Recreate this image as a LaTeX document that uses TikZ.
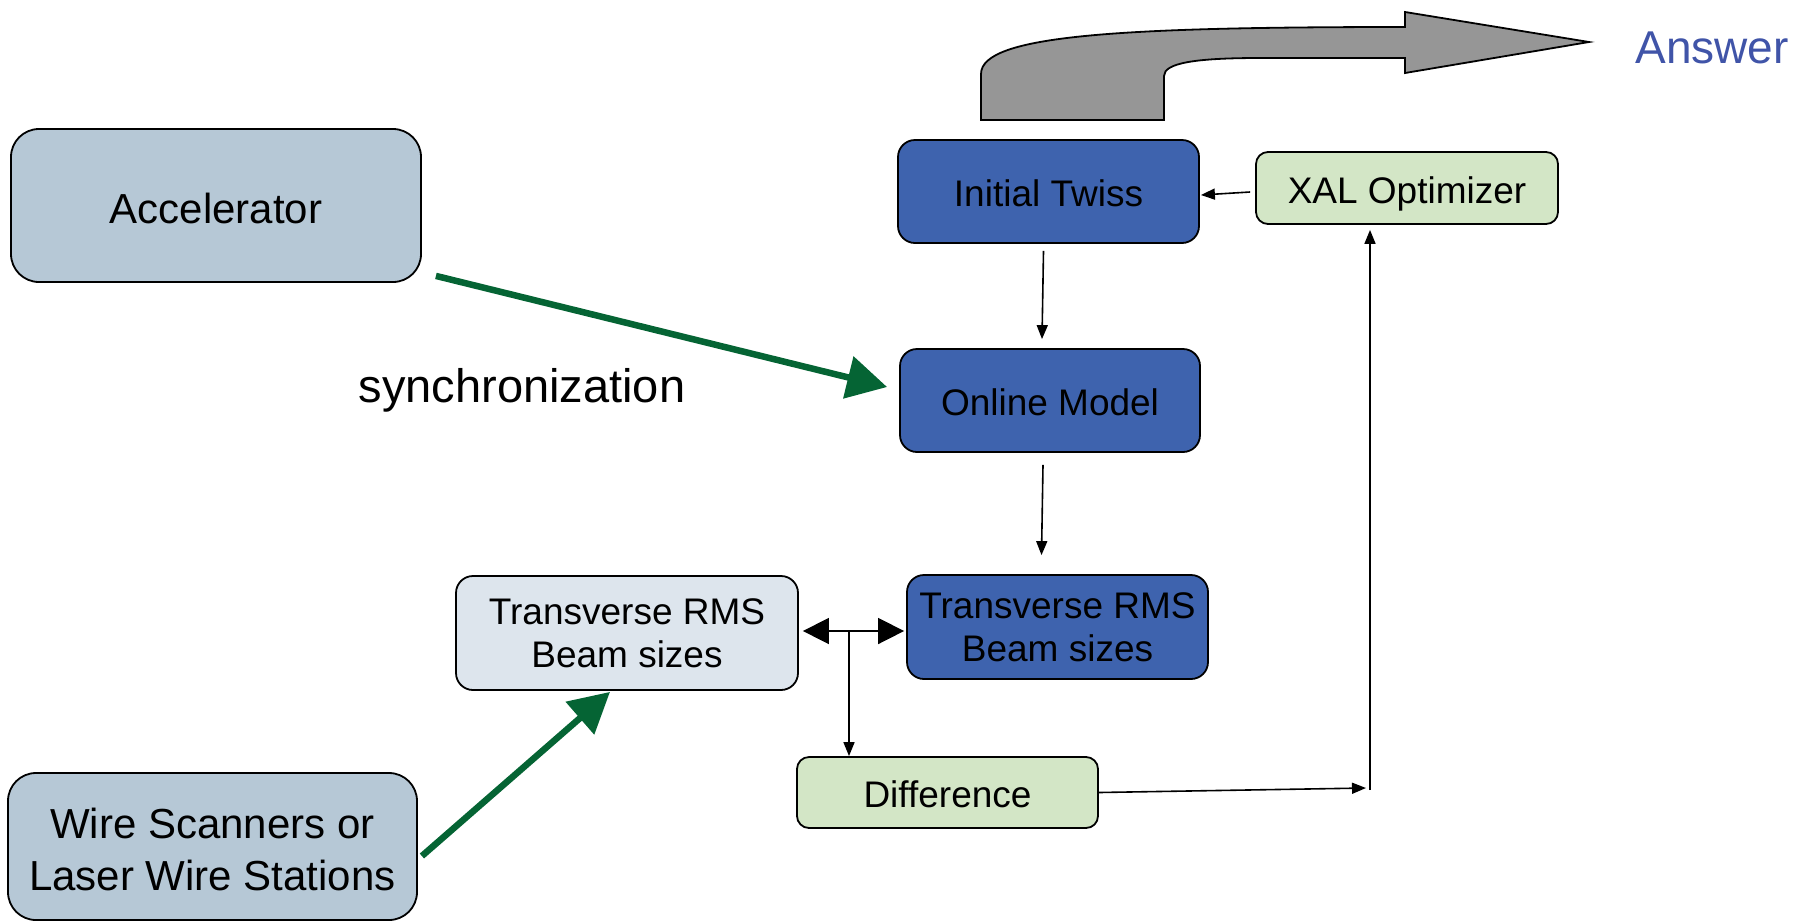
\documentclass[tikz,border=0pt]{standalone}
\usepackage{fontspec}
\setmainfont{Liberation Sans}
\usetikzlibrary{arrows.meta}
\definecolor{boxblue}{RGB}{62,99,174}
\definecolor{steel}{RGB}{182,200,214}
\definecolor{pale}{RGB}{221,229,237}
\definecolor{mint}{RGB}{211,230,198}
\definecolor{garrow}{RGB}{5,100,52}
\definecolor{grayarrow}{RGB}{150,150,150}
\definecolor{anstext}{RGB}{64,84,168}
\begin{document}
\begin{tikzpicture}[x=1pt,y=-1pt,
  box/.style={draw=black, line width=1.8pt, rounded corners=#1, align=center, inner sep=0pt, text=black},
  boxtext/.style={font=\fontsize{37}{43.5}\selectfont},
  oneline/.style={text height=30pt, text depth=0pt},
  bigtext/.style={font=\fontsize{42}{52}\selectfont},
  conn/.style={draw=black, line width=1.6pt, -{Triangle[length=14pt,width=11pt]}},
  dblconn/.style={draw=black, line width=1.6pt, {Triangle[length=26pt,width=26pt]}-{Triangle[length=26pt,width=26pt]}},
  greenarrow/.style={draw=garrow, line width=6.5pt, -{Triangle[length=40pt,width=42pt]}}
]
\useasboundingbox (0,0) rectangle (1796,922);

% big gray arrow
\draw[fill=grayarrow, draw=black, line width=1.8pt, line join=miter]
  (981,120) -- (981,74) .. controls (981,35) and (1120,27) .. (1405,27)
  -- (1405,12) -- (1589,42) -- (1405,73) -- (1405,58) -- (1260,58)
  .. controls (1195,58) and (1164,63) .. (1164,76) -- (1164,120) -- cycle;

\node[text=anstext, font=\fontsize{46}{52}\selectfont] (answer) at (1712,48) {Answer};

% boxes
\node[box=28pt, fill=steel, bigtext, text height=35pt, text depth=0pt, minimum width=410pt, minimum height=153pt] (acc) at (216,205.5) {Accelerator};
\node[box=17pt, fill=boxblue, boxtext, oneline, minimum width=301pt, minimum height=103pt] (twiss) at (1048.5,191.5) {Initial Twiss};
\node[box=12pt, fill=mint, boxtext, oneline, minimum width=302pt, minimum height=72pt] (xal) at (1407,188) {XAL Optimizer};
\node[box=17pt, fill=boxblue, boxtext, oneline, minimum width=300pt, minimum height=103pt] (online) at (1050,400.5) {Online Model};
\node[box=17pt, fill=boxblue, boxtext, minimum width=301pt, minimum height=104pt] (tblue) at (1057.5,627) {Transverse RMS\\Beam sizes};
\node[box=17pt, fill=pale, boxtext, minimum width=342pt, minimum height=114pt] (tlight) at (627,633) {Transverse RMS\\Beam sizes};
\node[box=12pt, fill=mint, boxtext, oneline, minimum width=301pt, minimum height=71pt] (diff) at (947.5,792.5) {Difference};
\node[box=28pt, fill=steel, bigtext, minimum width=409pt, minimum height=147pt] (wire) at (212.5,846.5) {\rule{0pt}{37pt}Wire Scanners or\\Laser Wire Stations};

\node[font=\fontsize{47}{52}\selectfont] (sync) at (522,390.5) {synchronization};

% connectors
\draw[conn] ([xshift=-5pt,yshift=-7pt]twiss.south) -- ([xshift=-8pt,yshift=9pt]online.north);
\draw[conn] ([xshift=-7pt,yshift=-12pt]online.south) -- ([xshift=-16pt,yshift=19pt]tblue.north);
\draw[conn] ([xshift=-5pt,yshift=-4pt]xal.west) -- ([xshift=1pt,yshift=-3.5pt]twiss.east);

\coordinate (turn) at (1370,788);
\draw[conn] (diff.east) -- ([xshift=-4pt]turn);
\draw[conn] ([yshift=-2pt]turn) -- ([xshift=-37pt,yshift=-5pt]xal.south);

\draw[dblconn] ([xshift=4pt,yshift=2pt]tlight.east) -- ([xshift=-2pt,yshift=-4pt]tblue.west);
\coordinate (split) at (849,631);
\draw[conn] (split) -- ([xshift=-98.5pt]diff.north);

\draw[greenarrow] ([xshift=14pt,yshift=7pt]acc.south east) -- ([xshift=-12pt,yshift=13.5pt]online.west);
\draw[greenarrow] ([xshift=4pt,yshift=-9.5pt]wire.east) -- ([xshift=-17pt,yshift=-1pt]tlight.south);
\end{tikzpicture}
\end{document}
